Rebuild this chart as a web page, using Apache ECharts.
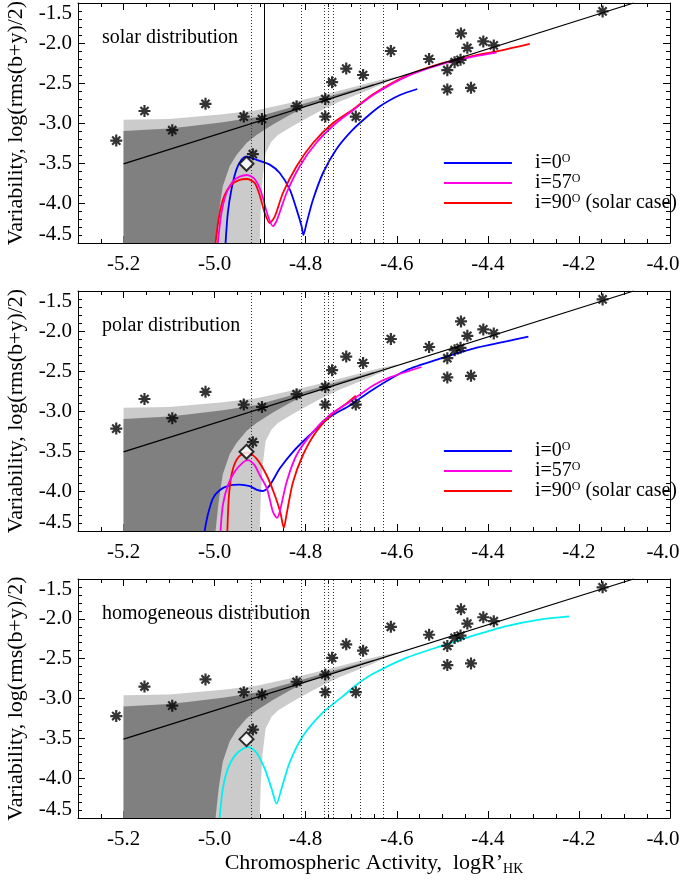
<!DOCTYPE html>
<html>
<head>
<meta charset="utf-8">
<script src="https://cdn.jsdelivr.net/npm/echarts/dist/echarts.min.js"></script>
<style>
  html, body { margin: 0; padding: 0; background: #fff; }
  #main { width: 689px; height: 881px; }
</style>
</head>
<body>
<div id="main"></div>
<script>
// stars (same in all three panels)
var starX = [-5.216, -5.154, -5.093, -5.020, -4.936, -4.896, -4.916, -4.820, -4.757, -4.757, -4.742, -4.711, -4.674,
    -4.690, -4.613, -4.529, -4.489, -4.489, -4.473, -4.460, -4.459, -4.445, -4.437, -4.410, -4.387, -4.148];
var starY = [-3.22, -2.85, -3.09, -2.76, -2.92, -2.95, -3.39, -2.79, -2.70, -2.92, -2.49, -2.32, -2.40,
    -2.92, -2.10, -2.20, -2.34, -2.58, -2.24, -2.21, -1.88, -2.06, -2.56, -1.98, -2.03, -1.605];
// the sun
var sunPoint = [-4.930, -3.51];
// fitted relation
var fitLine = [[-5.2, -3.51], [-4.08, -1.50]];
// vertical marks
var dottedX = [-4.925, -4.809, -4.763, -4.749, -4.738, -4.678, -4.630];
var solidX = -4.895;
// scatter envelopes
var lightBand = [[-5.2, -2.96], [-5.1, -2.95], [-5.05, -2.925], [-4.982, -2.89], [-4.908, -2.84], [-4.835, -2.75],
    [-4.762, -2.65], [-4.689, -2.54], [-4.64, -2.47], [-4.60, -2.42], [-4.60, -2.43], [-4.659, -2.58],
    [-4.689, -2.65], [-4.725, -2.73], [-4.762, -2.83], [-4.798, -2.94], [-4.835, -3.06], [-4.861, -3.15],
    [-4.875, -3.23], [-4.888, -3.375], [-4.895, -3.71], [-4.899, -4.125], [-4.901, -4.5], [-5.2, -4.5]];
var darkBand = [[-5.2, -3.10], [-5.1, -3.07], [-5.055, -3.04], [-4.982, -2.99], [-4.908, -2.925], [-4.835, -2.81],
    [-4.762, -2.69], [-4.70, -2.59], [-4.65, -2.51], [-4.65, -2.53], [-4.70, -2.62], [-4.762, -2.73],
    [-4.798, -2.79], [-4.835, -2.90], [-4.872, -3.02], [-4.908, -3.15], [-4.930, -3.25], [-4.952, -3.40],
    [-4.967, -3.54], [-4.982, -3.79], [-4.991, -4.125], [-4.998, -4.5], [-5.2, -4.5]];
// solar distribution
var solar0 = [[-4.976, -4.5], [-4.971, -4.125], [-4.963, -3.83], [-4.952, -3.58], [-4.941, -3.46], [-4.932, -3.42],
    [-4.908, -3.46], [-4.879, -3.52], [-4.857, -3.625], [-4.835, -3.83], [-4.820, -4.08], [-4.809, -4.29],
    [-4.805, -4.40], [-4.798, -4.25], [-4.784, -3.96], [-4.762, -3.625], [-4.733, -3.33], [-4.696, -3.08],
    [-4.659, -2.89], [-4.637, -2.79], [-4.593, -2.65], [-4.555, -2.575]];
var solar57 = [[-4.993, -4.5], [-4.985, -4.125], [-4.974, -3.875], [-4.960, -3.73], [-4.945, -3.67], [-4.929, -3.65],
    [-4.912, -3.70], [-4.897, -3.875], [-4.885, -4.125], [-4.872, -4.29], [-4.863, -4.21], [-4.842, -3.875],
    [-4.813, -3.54], [-4.777, -3.25], [-4.733, -3.0], [-4.696, -2.84], [-4.652, -2.65], [-4.579, -2.42],
    [-4.505, -2.27], [-4.432, -2.17], [-4.381, -2.12]];
var solar90 = [[-4.998, -4.5], [-4.989, -4.125], [-4.978, -3.90], [-4.963, -3.77], [-4.945, -3.71], [-4.929, -3.70],
    [-4.912, -3.75], [-4.900, -3.92], [-4.890, -4.125], [-4.879, -4.25], [-4.868, -4.17], [-4.850, -3.875],
    [-4.820, -3.54], [-4.784, -3.25], [-4.740, -3.0], [-4.696, -2.83], [-4.652, -2.64], [-4.579, -2.41],
    [-4.505, -2.26], [-4.432, -2.16], [-4.381, -2.105], [-4.308, -2.01]];
// polar distribution
var polar0 = [[-5.022, -4.5], [-5.015, -4.30], [-5.004, -4.095], [-4.989, -3.99], [-4.967, -3.93], [-4.945, -3.92],
    [-4.923, -3.94], [-4.905, -3.99], [-4.894, -4.0], [-4.879, -3.93], [-4.857, -3.72], [-4.828, -3.51],
    [-4.791, -3.30], [-4.747, -3.075], [-4.703, -2.93], [-4.652, -2.73], [-4.579, -2.49], [-4.505, -2.345],
    [-4.432, -2.22], [-4.359, -2.13], [-4.311, -2.07]];
var polar57 = [[-4.987, -4.5], [-4.982, -4.18], [-4.971, -3.93], [-4.956, -3.76], [-4.938, -3.645], [-4.927, -3.615],
    [-4.912, -3.68], [-4.901, -3.80], [-4.885, -3.97], [-4.872, -4.26], [-4.863, -4.335], [-4.857, -4.26],
    [-4.842, -3.89], [-4.820, -3.55], [-4.784, -3.26], [-4.747, -3.05], [-4.703, -2.885], [-4.652, -2.68],
    [-4.615, -2.58], [-4.546, -2.45]];
var polar90 = [[-4.972, -4.5], [-4.969, -4.095], [-4.963, -3.80], [-4.952, -3.61], [-4.938, -3.53], [-4.927, -3.52],
    [-4.908, -3.595], [-4.886, -3.80], [-4.868, -4.05], [-4.856, -4.26], [-4.848, -4.46], [-4.841, -4.26],
    [-4.828, -3.89], [-4.806, -3.55], [-4.777, -3.26], [-4.740, -3.03], [-4.711, -2.91], [-4.690, -2.81]];
// homogeneous distribution
var homog = [[-4.989, -4.5], [-4.982, -4.13], [-4.971, -3.88], [-4.956, -3.72], [-4.938, -3.63], [-4.925, -3.61],
    [-4.908, -3.68], [-4.890, -3.88], [-4.875, -4.13], [-4.864, -4.32], [-4.853, -4.13], [-4.835, -3.80],
    [-4.806, -3.47], [-4.762, -3.175], [-4.718, -2.97], [-4.689, -2.83], [-4.652, -2.69], [-4.579, -2.49],
    [-4.491, -2.32], [-4.432, -2.21], [-4.359, -2.09], [-4.286, -2.01], [-4.221, -1.97]];
// axis ticks
var xTicks = [-5.2, -5.0, -4.8, -4.6, -4.4, -4.2, -4.0];
var panelNames = ['solar distribution', 'polar distribution', 'homogeneous distribution'];

var FONT = "'Liberation Serif', 'DejaVu Serif', serif";
var gridTops = [3, 291, 579];
var gridHeights = [240, 240, 239];
var STAR = 'path://M5,0L5,10M0,5L10,5M1.6,1.6L8.4,8.4M8.4,1.6L1.6,8.4';

var chart = echarts.init(document.getElementById('main'));

//x轴: 主刻度+次刻度, 上下两边
function makeXAxes(gi) {
    var base = {type: 'value', gridIndex: gi, min: -5.3, max: -4.0, splitLine: {show: false}};
    var line = {onZero: false, lineStyle: {color: '#000', width: 1}};
    var main = Object.assign({}, base, {
        position: 'bottom',
        axisLine: line,
        axisTick: {inside: true, length: 7, customValues: xTicks, lineStyle: {color: '#000'}},
        axisLabel: {
            customValues: xTicks, margin: 11, color: '#000', fontFamily: FONT, fontSize: 21,
            formatter: function (v) {
                var s = v.toFixed(1);
                return Math.abs(v + 4.0) < 1e-6 ? '{r|' + s + '}' : s;
            },
            rich: {r: {fontFamily: FONT, fontSize: 21, color: '#000', padding: [0, 14, 0, 0]}}
        }
    });
    if (gi === 2) {
        main.name = '{a|Chromospheric Activity,  logR\u2019}{s|HK}';
        main.nameLocation = 'middle';
        main.nameGap = 32;
        main.nameTextStyle = {
            rich: {
                a: {fontFamily: FONT, fontSize: 22, color: '#000', lineHeight: 26},
                s: {fontFamily: FONT, fontSize: 14, color: '#000', lineHeight: 14, verticalAlign: 'bottom'}
            }
        };
    }
    var minorB = Object.assign({}, base, {
        position: 'bottom', interval: 0.05,
        axisLine: {show: false}, axisLabel: {show: false},
        axisTick: {inside: true, length: 4, lineStyle: {color: '#000'}}
    });
    var topMain = Object.assign({}, base, {
        position: 'top', axisLine: line, axisLabel: {show: false},
        axisTick: {inside: true, length: 7, customValues: xTicks, lineStyle: {color: '#000'}}
    });
    var minorT = Object.assign({}, base, {
        position: 'top', interval: 0.05,
        axisLine: {show: false}, axisLabel: {show: false},
        axisTick: {inside: true, length: 4, lineStyle: {color: '#000'}}
    });
    return [main, minorB, topMain, minorT];
}

//y轴: 左右两边
function makeYAxes(gi) {
    var base = {
        type: 'value', gridIndex: gi, min: -4.5, max: -1.5, interval: 0.5,
        splitLine: {show: false},
        axisLine: {onZero: false, lineStyle: {color: '#000', width: 1}},
        axisTick: {inside: true, length: 7, lineStyle: {color: '#000'}},
        minorTick: {show: true, splitNumber: 5, length: 4, lineStyle: {color: '#000'}}
    };
    var left = Object.assign({}, base, {
        position: 'left',
        name: 'Variability, log(rms(b+y)/2)',
        nameLocation: 'middle', nameRotate: 90, nameGap: 51,
        nameTextStyle: {fontFamily: FONT, fontSize: 22, color: '#000'},
        axisLabel: {
            margin: 6, color: '#000', fontFamily: FONT, fontSize: 21,
            formatter: function (v) {
                var s = v.toFixed(1);
                if (Math.abs(v + 1.5) < 1e-6) return '{hi|' + s + '}';
                if (Math.abs(v + 4.5) < 1e-6) return '{lo|' + s + '}';
                return s;
            },
            rich: {
                hi: {fontFamily: FONT, fontSize: 21, color: '#000', padding: [20, 0, 0, 0]},
                lo: {fontFamily: FONT, fontSize: 21, color: '#000', padding: [0, 0, 18, 0]}
            }
        }
    });
    var right = Object.assign({}, base, {position: 'right', axisLabel: {show: false}});
    return [left, right];
}

//灰色区域
function bandSeries(gi, pts, color) {
    return {
        type: 'custom', xAxisIndex: gi * 4, yAxisIndex: gi * 2, silent: true, z: 1,
        data: [pts[0]],
        renderItem: function (params, api) {
            return {
                type: 'polygon',
                shape: {points: pts.map(function (p) { return api.coord(p); })},
                style: {fill: color}
            };
        }
    };
}

function curveSeries(gi, name, pts, color) {
    return {
        type: 'line', name: name, xAxisIndex: gi * 4, yAxisIndex: gi * 2, z: 4,
        data: pts, symbol: 'none', smooth: 0.25, clip: true,
        lineStyle: {color: color, width: 1.8}, itemStyle: {color: color}
    };
}

function panelSeries(gi) {
    var marks = dottedX.map(function (v) { return {xAxis: v}; });
    if (gi === 0) {
        marks.push({xAxis: solidX, lineStyle: {type: 'solid', color: '#000', width: 1}});
    }
    var list = [
        bandSeries(gi, lightBand, '#cbcbcb'),
        bandSeries(gi, darkBand, '#808080'),
        {
            type: 'line', xAxisIndex: gi * 4, yAxisIndex: gi * 2, z: 5,
            data: fitLine, symbol: 'none',
            lineStyle: {color: '#000', width: 1.3},
            markLine: {
                silent: true, symbol: ['none', 'none'], label: {show: false},
                lineStyle: {color: '#333', type: [1, 2], width: 1},
                data: marks
            }
        },
        {
            type: 'scatter', xAxisIndex: gi * 4, yAxisIndex: gi * 2, z: 6,
            data: starX.map(function (x, i) { return [x, starY[i]]; }),
            symbol: STAR, symbolSize: 12,
            itemStyle: {color: 'rgba(0,0,0,0)', borderColor: '#000', borderWidth: 2.2}
        },
        {
            type: 'scatter', xAxisIndex: gi * 4, yAxisIndex: gi * 2, z: 6,
            data: [sunPoint], symbol: 'diamond', symbolSize: 14,
            itemStyle: {color: '#fff', borderColor: '#000', borderWidth: 2}
        }
    ];
    if (gi === 0) {
        list.push(curveSeries(0, 'solar_0', solar0, '#0000ff'));
        list.push(curveSeries(0, 'solar_90', solar90, '#ff0000'));
        list.push(curveSeries(0, 'solar_57', solar57, '#ff00e6'));
    } else if (gi === 1) {
        list.push(curveSeries(1, 'polar_0', polar0, '#0000ff'));
        list.push(curveSeries(1, 'polar_90', polar90, '#ff0000'));
        list.push(curveSeries(1, 'polar_57', polar57, '#ff00e6'));
    } else {
        list.push(curveSeries(2, 'homog', homog, '#00f0f0'));
    }
    return list;
}

function legendFor(prefix, top) {
    return {
        data: [prefix + '_0', prefix + '_57', prefix + '_90'],
        orient: 'vertical', left: 443, top: top, padding: 0,
        itemWidth: 68, itemHeight: 12, itemGap: 0,
        selectedMode: false,
        itemStyle: {opacity: 0},
        lineStyle: {width: 1.8},
        formatter: function (name) {
            var deg = name.split('_')[1];
            return '{a|i=' + deg + '}{s|O}' + (deg === '90' ? '{a2| (solar case)}' : '');
        },
        textStyle: {
            rich: {
                a: {fontFamily: FONT, fontSize: 20, color: '#000', lineHeight: 20, padding: [0, 0, 0, 18]},
                a2: {fontFamily: FONT, fontSize: 20, color: '#000', lineHeight: 20},
                s: {fontFamily: FONT, fontSize: 12, color: '#000', lineHeight: 12, verticalAlign: 'top'}
            }
        }
    };
}

var grids = [], xAxes = [], yAxes = [], series = [], titles = [];
for (var gi = 0; gi < 3; gi++) {
    grids.push({left: 78, right: 19, top: gridTops[gi], height: gridHeights[gi], outerBoundsMode: 'none'});
    xAxes = xAxes.concat(makeXAxes(gi));
    yAxes = yAxes.concat(makeYAxes(gi));
    series = series.concat(panelSeries(gi));
    titles.push({
        text: panelNames[gi], left: 102, top: gridTops[gi] + 25, padding: 0,
        textStyle: {fontFamily: FONT, fontSize: 20, fontWeight: 'normal', color: '#000'}
    });
}

chart.setOption({
    animation: false,
    backgroundColor: '#fff',
    title: titles,
    legend: [legendFor('solar', 153), legendFor('polar', 441)],
    grid: grids,
    xAxis: xAxes,
    yAxis: yAxes,
    series: series
});
</script>
</body>
</html>
